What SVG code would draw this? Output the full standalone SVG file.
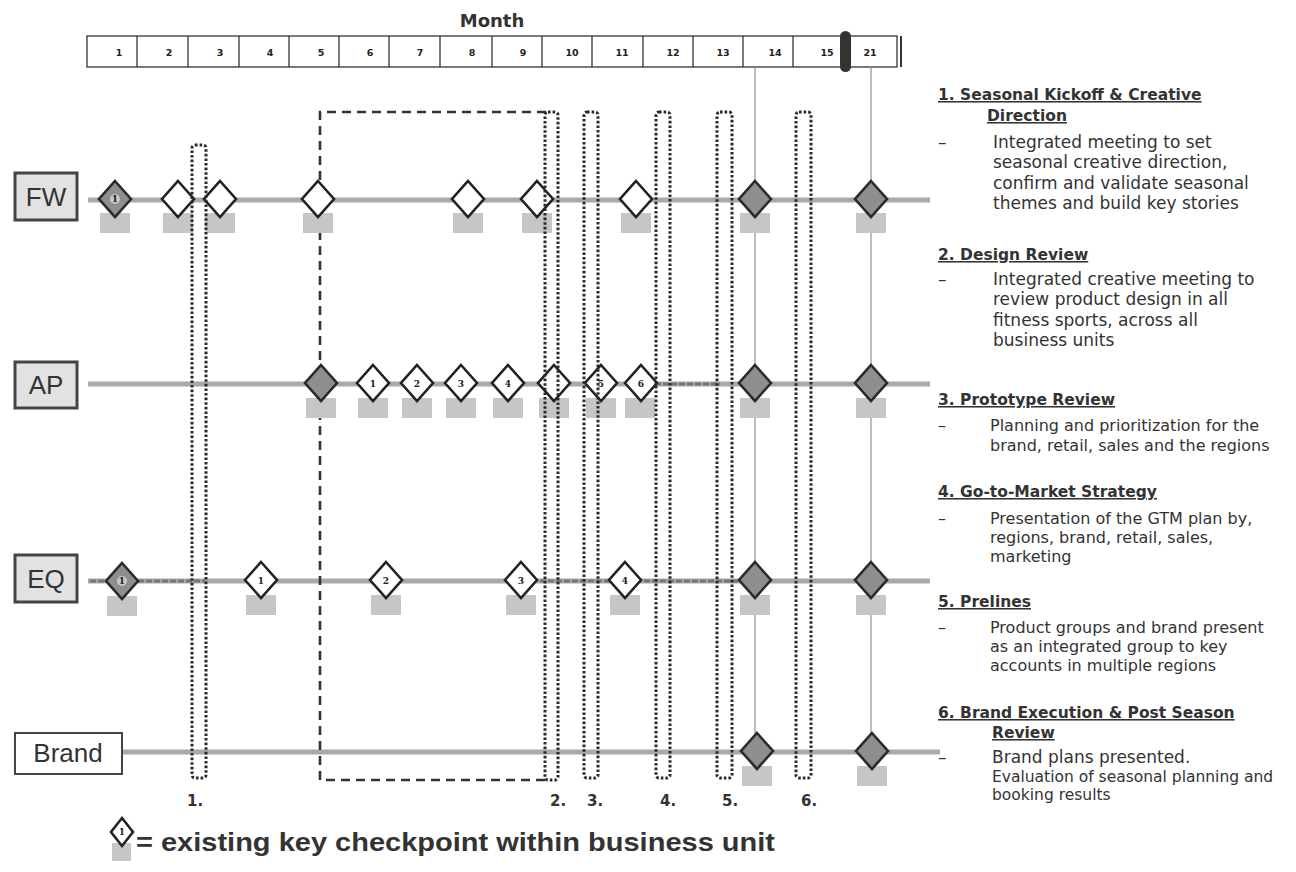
<svg xmlns="http://www.w3.org/2000/svg" xmlns:xlink="http://www.w3.org/1999/xlink" width="1296" height="872" viewBox="0 0 1296 872">
<style>
.cell{fill:#fff;stroke:#333;stroke-width:1.3}
.num{font-family:"DejaVu Sans",Verdana,sans-serif;font-weight:bold;font-size:9.5px;fill:#222;text-anchor:middle}
.row{stroke:#a9a9a9;stroke-width:5;fill:none}
.rowdk{stroke:#777;stroke-width:3;fill:none;stroke-dasharray:6 2}
.vline{stroke:#9a9a9a;stroke-width:1.3}
.dash{fill:none;stroke:#333;stroke-width:2.6;stroke-dasharray:9 6}
.dot{fill:none;stroke:#2a2a2a;stroke-width:3;stroke-dasharray:2.6 2;stroke-linecap:butt}
.sq{fill:#c6c6c6}
.dw{fill:#fff;stroke:#222;stroke-width:2.6;stroke-linejoin:miter}
.df{fill:#8e8e8e;stroke:#2a2a2a;stroke-width:2.6}
.dn{font-family:"DejaVu Serif",serif;font-weight:bold;font-size:9px;fill:#222;text-anchor:middle}
.lbox{fill:#e2e2e2;stroke:#444;stroke-width:3}
.ltxt{font-family:"Liberation Sans",Arial,sans-serif;font-size:26px;fill:#333;text-anchor:middle}
.blab{font-family:"DejaVu Sans",Verdana,sans-serif;font-weight:bold;font-size:15px;fill:#333}
.hd{font-family:"DejaVu Sans",Verdana,sans-serif;font-weight:bold;font-size:15.5px;fill:#333;text-decoration:underline}
.b1{font-family:"DejaVu Sans",Verdana,sans-serif;font-size:17px;fill:#333}
.b2{font-family:"DejaVu Sans",Verdana,sans-serif;font-size:16px;fill:#333}
.b3{font-family:"DejaVu Sans",Verdana,sans-serif;font-size:15.5px;fill:#333}
</style>
<defs>
<path id="d" d="M0,-18 L16,0 L0,18 L-16,0 Z"/>
<rect id="s" x="-15" y="13" width="30" height="20"/>
</defs>
<rect width="1296" height="872" fill="#fff"/>

<g id="month-header">
<text x="492" y="27" font-family="DejaVu Sans, Verdana, sans-serif" font-weight="bold" font-size="18" fill="#333" text-anchor="middle">Month</text>
<rect class="cell" x="87" y="36" width="810" height="31"/>
<g stroke="#333" stroke-width="1.3">
<line x1="137" y1="36" x2="137" y2="67"/><line x1="188" y1="36" x2="188" y2="67"/>
<line x1="239" y1="36" x2="239" y2="67"/><line x1="289" y1="36" x2="289" y2="67"/>
<line x1="339" y1="36" x2="339" y2="67"/><line x1="389" y1="36" x2="389" y2="67"/>
<line x1="440" y1="36" x2="440" y2="67"/><line x1="492" y1="36" x2="492" y2="67"/>
<line x1="542" y1="36" x2="542" y2="67"/><line x1="592" y1="36" x2="592" y2="67"/>
<line x1="643" y1="36" x2="643" y2="67"/><line x1="693" y1="36" x2="693" y2="67"/>
<line x1="743" y1="36" x2="743" y2="67"/><line x1="793" y1="36" x2="793" y2="67"/>
</g>
<line x1="901" y1="36" x2="901" y2="67" stroke="#333" stroke-width="2"/>
<rect x="840" y="31" width="11" height="41" rx="5.5" fill="#333"/>
<text class="num" x="119" y="56">1</text><text class="num" x="169" y="56">2</text>
<text class="num" x="220" y="56">3</text><text class="num" x="270" y="56">4</text>
<text class="num" x="321" y="56">5</text><text class="num" x="370" y="56">6</text>
<text class="num" x="420" y="56">7</text><text class="num" x="472" y="56">8</text>
<text class="num" x="523" y="56">9</text><text class="num" x="572" y="56">10</text>
<text class="num" x="622" y="56">11</text><text class="num" x="673" y="56">12</text>
<text class="num" x="723" y="56">13</text><text class="num" x="775" y="56">14</text>
<text class="num" x="827" y="56">15</text><text class="num" x="870" y="56">21</text>
</g>

<g id="connectors">
<line class="row" x1="88" y1="200" x2="930" y2="200"/>
<line class="row" x1="88" y1="384" x2="930" y2="384"/>
<line class="row" x1="88" y1="581" x2="930" y2="581"/>
<line class="row" x1="122" y1="752" x2="940" y2="752"/>
<line class="rowdk" x1="90" y1="581" x2="205" y2="581"/>
<line class="rowdk" x1="540" y1="581" x2="740" y2="581"/>
<line class="rowdk" x1="655" y1="384" x2="720" y2="384"/>
<line class="vline" x1="755" y1="67" x2="755" y2="760"/>
<line class="vline" x1="871" y1="67" x2="871" y2="760"/>
</g>

<g id="phase-design-window">
<path class="dash" d="M546,112 H320 V780 H546"/>
</g>

<g id="label-FW">
<rect class="lbox" x="15" y="173" width="62" height="47"/>
<text class="ltxt" x="46" y="206">FW</text>
</g>
<g id="label-AP">
<rect class="lbox" x="15" y="362" width="62" height="46"/>
<text class="ltxt" x="46" y="394">AP</text>
</g>
<g id="label-EQ">
<rect class="lbox" x="15" y="555" width="62" height="47"/>
<text class="ltxt" x="46" y="588">EQ</text>
</g>
<g id="label-Brand">
<rect x="15" y="733" width="107" height="41" fill="#fff" stroke="#444" stroke-width="2"/>
<text class="ltxt" x="68" y="762" font-size="24">Brand</text>
</g>

<g id="row-FW">
<use href="#s" class="sq" x="115" y="200"/><use href="#s" class="sq" x="178" y="200"/>
<use href="#s" class="sq" x="220" y="200"/><use href="#s" class="sq" x="318" y="200"/>
<use href="#s" class="sq" x="468" y="200"/><use href="#s" class="sq" x="537" y="200"/>
<use href="#s" class="sq" x="636" y="200"/><use href="#s" class="sq" x="755" y="200"/>
<use href="#s" class="sq" x="871" y="200"/>
<use href="#d" class="df" x="115" y="199"/>
<circle cx="115" cy="199" r="5" fill="#c8c8c8"/><text class="dn" x="115" y="202" font-size="7">1</text>
<use href="#d" class="dw" x="178" y="199"/><use href="#d" class="dw" x="220" y="199"/>
<use href="#d" class="dw" x="318" y="199"/><use href="#d" class="dw" x="468" y="199"/>
<use href="#d" class="dw" x="537" y="199"/><use href="#d" class="dw" x="636" y="199"/>
<use href="#d" class="df" x="755" y="199"/><use href="#d" class="df" x="871" y="199"/>
</g>

<g id="row-AP">
<use href="#s" class="sq" x="321" y="385"/><use href="#s" class="sq" x="373" y="385"/>
<use href="#s" class="sq" x="417" y="385"/><use href="#s" class="sq" x="461" y="385"/>
<use href="#s" class="sq" x="508" y="385"/><use href="#s" class="sq" x="554" y="385"/>
<use href="#s" class="sq" x="601" y="385"/><use href="#s" class="sq" x="640" y="385"/>
<use href="#s" class="sq" x="755" y="385"/><use href="#s" class="sq" x="871" y="385"/>
<use href="#d" class="df" x="321" y="383"/>
<use href="#d" class="dw" x="373" y="383"/><text class="dn" x="373" y="387">1</text>
<use href="#d" class="dw" x="417" y="383"/><text class="dn" x="417" y="387">2</text>
<use href="#d" class="dw" x="461" y="383"/><text class="dn" x="461" y="387">3</text>
<use href="#d" class="dw" x="508" y="383"/><text class="dn" x="508" y="387">4</text>
<use href="#d" class="dw" x="554" y="383"/>
<use href="#d" class="dw" x="601" y="383"/><text class="dn" x="601" y="387">5</text>
<use href="#d" class="dw" x="641" y="383"/><text class="dn" x="641" y="387">6</text>
<use href="#d" class="df" x="755" y="383"/><use href="#d" class="df" x="871" y="383"/>
</g>

<g id="row-EQ">
<use href="#s" class="sq" x="122" y="583"/><use href="#s" class="sq" x="261" y="582"/>
<use href="#s" class="sq" x="386" y="582"/><use href="#s" class="sq" x="521" y="582"/>
<use href="#s" class="sq" x="625" y="582"/><use href="#s" class="sq" x="755" y="582"/>
<use href="#s" class="sq" x="871" y="582"/>
<use href="#d" class="df" x="122" y="581"/>
<circle cx="122" cy="581" r="5" fill="#c8c8c8"/><text class="dn" x="122" y="584" font-size="7">1</text>
<use href="#d" class="dw" x="261" y="580"/><text class="dn" x="261" y="584">1</text>
<use href="#d" class="dw" x="386" y="580"/><text class="dn" x="386" y="584">2</text>
<use href="#d" class="dw" x="521" y="580"/><text class="dn" x="521" y="584">3</text>
<use href="#d" class="dw" x="625" y="580"/><text class="dn" x="625" y="584">4</text>
<use href="#d" class="df" x="755" y="580"/><use href="#d" class="df" x="871" y="580"/>
</g>

<g id="row-Brand">
<use href="#s" class="sq" x="757" y="753"/><use href="#s" class="sq" x="872" y="753"/>
<use href="#d" class="df" x="757" y="751"/><use href="#d" class="df" x="872" y="751"/>
</g>

<g id="phase-boxes">
<rect class="dot" x="192" y="145" width="14" height="633" rx="3"/>
<rect class="dot" x="545" y="112" width="13" height="668" rx="3"/>
<rect class="dot" x="584" y="112" width="14" height="666" rx="3"/>
<rect class="dot" x="656" y="112" width="14" height="666" rx="3"/>
<rect class="dot" x="717" y="112" width="15" height="666" rx="3"/>
<rect class="dot" x="796" y="112" width="15" height="666" rx="3"/>
<text class="blab" x="187" y="806">1.</text>
<text class="blab" x="550" y="806">2.</text>
<text class="blab" x="587" y="806">3.</text>
<text class="blab" x="660" y="806">4.</text>
<text class="blab" x="722" y="806">5.</text>
<text class="blab" x="801" y="806">6.</text>
</g>

<g id="legend">
<rect class="sq" x="112" y="843" width="19" height="18"/>
<path class="dw" d="M122,818 L133,832 L122,846 L111,832 Z" stroke-width="2"/>
<text class="dn" x="122" y="835" font-size="6">1</text>
<text x="136" y="851" font-family="Liberation Sans, Arial, sans-serif" font-weight="bold" font-size="26" fill="#333" textLength="639" lengthAdjust="spacingAndGlyphs">= existing key checkpoint within business unit</text>
</g>

<g id="descriptions">
<text class="hd" x="938" y="100">1. Seasonal Kickoff &amp; Creative</text>
<text class="hd" x="987" y="121">Direction</text>
<text class="b1" x="938" y="148">–</text>
<text class="b1" x="993" y="148">Integrated meeting to set</text>
<text class="b1" x="993" y="168">seasonal creative direction,</text>
<text class="b1" x="993" y="189">confirm and validate seasonal</text>
<text class="b1" x="993" y="209">themes and build key stories</text>

<text class="hd" x="938" y="260">2. Design Review</text>
<text class="b1" x="938" y="285">–</text>
<text class="b1" x="993" y="285">Integrated creative meeting to</text>
<text class="b1" x="993" y="305">review product design in all</text>
<text class="b1" x="993" y="326">fitness sports, across all</text>
<text class="b1" x="993" y="346">business units</text>

<text class="hd" x="938" y="405">3. Prototype Review</text>
<text class="b2" x="938" y="431">–</text>
<text class="b2" x="990" y="431">Planning and prioritization for the</text>
<text class="b2" x="990" y="451">brand, retail, sales and the regions</text>

<text class="hd" x="938" y="497">4. Go-to-Market Strategy</text>
<text class="b2" x="938" y="524">–</text>
<text class="b2" x="990" y="524">Presentation of the GTM plan by,</text>
<text class="b2" x="990" y="543">regions, brand, retail, sales,</text>
<text class="b2" x="990" y="562">marketing</text>

<text class="hd" x="938" y="607">5. Prelines</text>
<text class="b2" x="938" y="633">–</text>
<text class="b2" x="990" y="633">Product groups and brand present</text>
<text class="b2" x="990" y="652">as an integrated group to key</text>
<text class="b2" x="990" y="671">accounts in multiple regions</text>

<text class="hd" x="938" y="718">6. Brand Execution &amp; Post Season</text>
<text class="hd" x="992" y="738">Review</text>
<text class="b1" x="938" y="763">–</text>
<text class="b1" x="992" y="763">Brand plans presented.</text>
<text class="b3" x="992" y="782">Evaluation of seasonal planning and</text>
<text class="b3" x="992" y="800">booking results</text>
</g>
</svg>
